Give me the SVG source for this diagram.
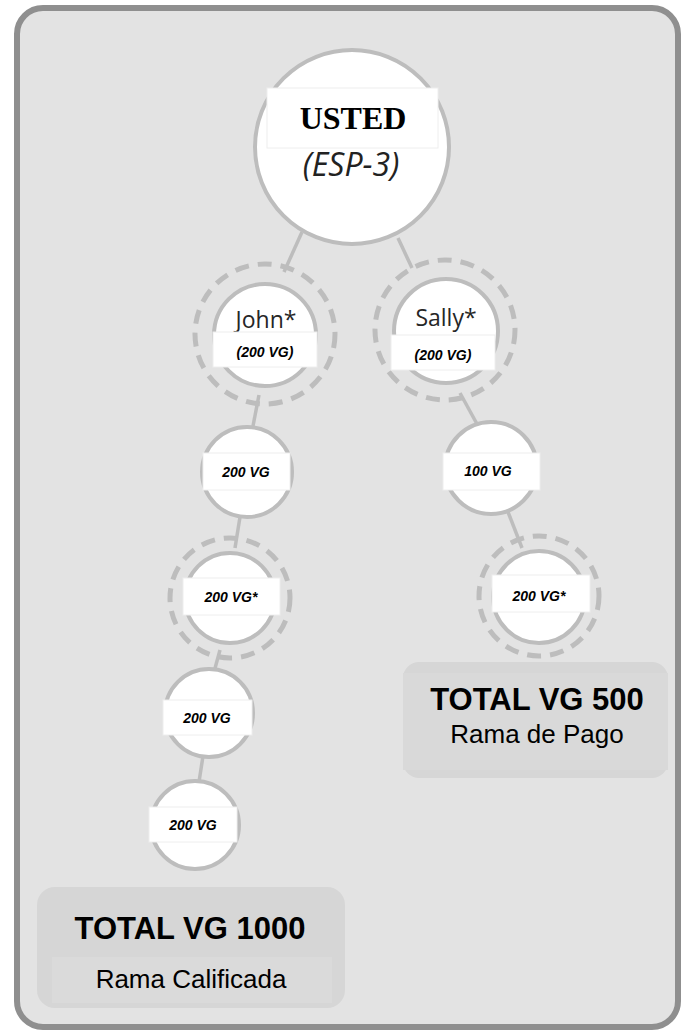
<svg xmlns="http://www.w3.org/2000/svg" width="685" height="1032" viewBox="0 0 685 1032">
<style>
.node{fill:#fff;stroke:#bdbdbd;stroke-width:4}
.ring{fill:none;stroke:#bdbdbd;stroke-width:5;stroke-dasharray:14 9}
.lbl{fill:#fff;stroke:#eeeeee;stroke-width:1}
.vg{font-family:"Liberation Sans",Arial,sans-serif;font-weight:bold;font-style:italic;font-size:14px;fill:#000;text-anchor:middle}
.name{font-family:"Open Sans","Noto Sans",sans-serif;font-size:23px;fill:#262626;text-anchor:middle}
.conn{stroke:#bdbdbd;stroke-width:3.5;fill:none}
.tot{font-family:"Liberation Sans",Arial,sans-serif;font-weight:bold;font-size:31px;fill:#000;text-anchor:middle}
.sub{font-family:"Liberation Sans",Arial,sans-serif;font-size:26px;fill:#000;text-anchor:middle}
</style>
<rect x="17" y="8" width="661" height="1019" rx="26" fill="#e3e3e3" stroke="#8f8f8f" stroke-width="6"/>
<g id="connectors">
<line class="conn" x1="302" y1="232" x2="284" y2="272"/>
<line class="conn" x1="398" y1="238" x2="412" y2="268"/>
<line class="conn" x1="259" y1="395" x2="253" y2="426"/>
<line class="conn" x1="240" y1="517" x2="235" y2="548"/>
<line class="conn" x1="220" y1="650" x2="214" y2="672"/>
<line class="conn" x1="203" y1="756" x2="199" y2="782"/>
<line class="conn" x1="460" y1="393" x2="477" y2="424"/>
<line class="conn" x1="508" y1="512" x2="522" y2="548"/>
</g>
<g id="usted">
<circle class="node" cx="352" cy="147" r="97"/>
<rect class="lbl" x="267" y="88" width="171" height="60"/>
<text x="353" y="129" font-family="Liberation Serif,Times New Roman,serif" font-weight="bold" font-size="32" text-anchor="middle" fill="#000">USTED</text>
<text x="351" y="176" font-family="Open Sans,Noto Sans,sans-serif" font-style="italic" font-size="32" text-anchor="middle" fill="#222">(ESP-3)</text>
</g>
<g id="john">
<circle class="ring" cx="265" cy="334" r="70"/>
<circle class="node" cx="265" cy="335" r="51"/>
<text class="name" x="266" y="328">John*</text>
<rect class="lbl" x="213" y="332" width="104" height="35"/>
<text class="vg" x="265" y="357" font-size="15">(200 VG)</text>
</g>
<g id="sally">
<circle class="ring" cx="445" cy="330" r="70"/>
<circle class="node" cx="446" cy="331" r="52"/>
<text class="name" x="446" y="326" font-size="25">Sally*</text>
<rect class="lbl" x="391" y="335" width="104" height="35"/>
<text class="vg" x="443" y="360" font-size="15">(200 VG)</text>
</g>
<g id="l1">
<circle class="node" cx="247" cy="472" r="45"/>
<rect class="lbl" x="203" y="453" width="87" height="37"/>
<text class="vg" x="246" y="477">200 VG</text>
</g>
<g id="l2">
<circle class="ring" cx="230" cy="598" r="60"/>
<circle class="node" cx="230" cy="598" r="45"/>
<rect class="lbl" x="183" y="578" width="97" height="37"/>
<text class="vg" x="231" y="602">200 VG*</text>
</g>
<g id="l3">
<circle class="node" cx="209" cy="713" r="44"/>
<rect class="lbl" x="163" y="700" width="89" height="35"/>
<text class="vg" x="207" y="723">200 VG</text>
</g>
<g id="l4">
<circle class="node" cx="195" cy="825" r="44"/>
<rect class="lbl" x="149" y="807" width="88" height="35"/>
<text class="vg" x="193" y="830">200 VG</text>
</g>
<g id="r1">
<circle class="node" cx="491" cy="468" r="46"/>
<rect class="lbl" x="443" y="453" width="97" height="37"/>
<text class="vg" x="488" y="476">100 VG</text>
</g>
<g id="r2">
<circle class="ring" cx="539" cy="596" r="60"/>
<circle class="node" cx="539" cy="597" r="46"/>
<rect class="lbl" x="492" y="575" width="98" height="37"/>
<text class="vg" x="539" y="601">200 VG*</text>
</g>
<g id="total-right">
<rect x="403" y="662" width="265" height="116" rx="16" fill="#d6d6d6"/>
<rect x="403" y="673" width="265" height="97" fill="#d9d9d9"/>
<text class="tot" x="537" y="710">TOTAL VG 500</text>
<text class="sub" x="537" y="743" font-size="24">Rama de Pago</text>
</g>
<g id="total-left">
<rect x="37" y="887" width="308" height="121" rx="18" fill="#d6d6d6"/>
<rect x="52" y="957" width="280" height="46" fill="#dadada"/>
<text class="tot" x="190" y="939">TOTAL VG 1000</text>
<text class="sub" x="191" y="988">Rama Calificada</text>
</g>
</svg>
